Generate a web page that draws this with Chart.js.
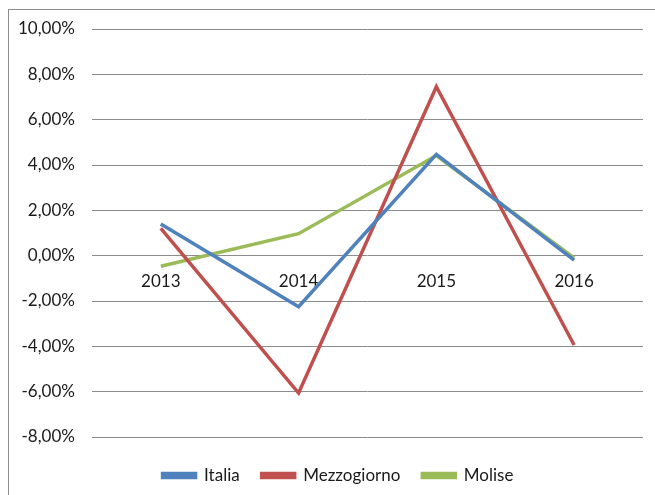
<!DOCTYPE html>
<html>
<head>
<meta charset="utf-8">
<script src="https://cdn.jsdelivr.net/npm/chart.js@4/dist/chart.umd.min.js"></script>
<style>
  html, body { margin: 0; padding: 0; background: #fff; }
  #wrap { position: relative; width: 655px; height: 495px; overflow: hidden; }
  #frame { position: absolute; left: 8px; top: 9px; width: 700px; height: 600px;
           border-left: 1px solid #8c8c8c; border-top: 1px solid #8c8c8c; box-sizing: border-box; }
  #c { position: absolute; left: 0; top: 0; }
</style>
</head>
<body>
<div id="wrap">
  <div id="frame"></div>
  <canvas id="c" width="655" height="495"></canvas>
</div>
<script>
const categories = ['2013', '2014', '2015', '2016'];
const italia = [1.40, -2.25, 4.47, -0.20];
const mezzogiorno = [1.20, -6.06, 7.45, -3.94];
const molise = [-0.47, 0.97, 4.42, -0.10];
const yTickValues = [-8, -6, -4, -2, 0, 2, 4, 6, 8, 10];
const yTickLabels = ['-8,00%', '-6,00%', '-4,00%', '-2,00%', '0,00%', '2,00%', '4,00%', '6,00%', '8,00%', '10,00%'];

const FONT = 'Lato, "Open Sans", sans-serif';

const legendShift = {
  id: 'legendShift',
  afterLayout(chart) {
    if (chart.legend) { chart.legend.left += 16; chart.legend.right += 16; }
  }
};

new Chart(document.getElementById('c'), {
  type: 'line',
  data: {
    labels: categories,
    datasets: [
      { label: 'Italia', data: italia, borderColor: '#4F81BD', backgroundColor: '#4F81BD' },
      { label: 'Mezzogiorno', data: mezzogiorno, borderColor: '#C0504D', backgroundColor: '#C0504D' },
      { label: 'Molise', data: molise, borderColor: '#9BBB59', backgroundColor: '#9BBB59' }
    ].map(d => Object.assign(d, { borderWidth: 3.5, pointRadius: 0, pointHoverRadius: 0, tension: 0, fill: false }))
  },
  plugins: [legendShift],
  options: {
    responsive: false,
    animation: false,
    events: [],
    layout: { padding: { left: 1, right: 12, top: 29, bottom: 1 } },
    plugins: {
      tooltip: { enabled: false },
      legend: {
        position: 'bottom',
        title: { display: true, text: '', font: { size: 1, lineHeight: 1 }, padding: { top: 7, bottom: 0 } },
        labels: {
          boxWidth: 33,
          boxHeight: 4,
          padding: 22,
          color: '#1a1a1a',
          font: { family: FONT, size: 17 }
        }
      }
    },
    scales: {
      x: {
        position: { y: 0 },
        offset: true,
        grid: { display: false, drawTicks: false },
        border: { display: false },
        ticks: { padding: 16, color: '#1a1a1a', font: { family: FONT, size: 17 }, maxRotation: 0 }
      },
      y: {
        min: -8,
        max: 10,
        afterBuildTicks: (scale) => { scale.ticks = yTickValues.map(v => ({ value: v })); },
        grid: { color: '#8c8c8c', lineWidth: 1, drawTicks: false },
        border: { display: false },
        ticks: {
          padding: 17,
          color: '#1a1a1a',
          font: { family: FONT, size: 17 },
          callback: (v) => { const i = yTickValues.indexOf(v); return i >= 0 ? yTickLabels[i] : ''; }
        }
      }
    }
  }
});
</script>
</body>
</html>
